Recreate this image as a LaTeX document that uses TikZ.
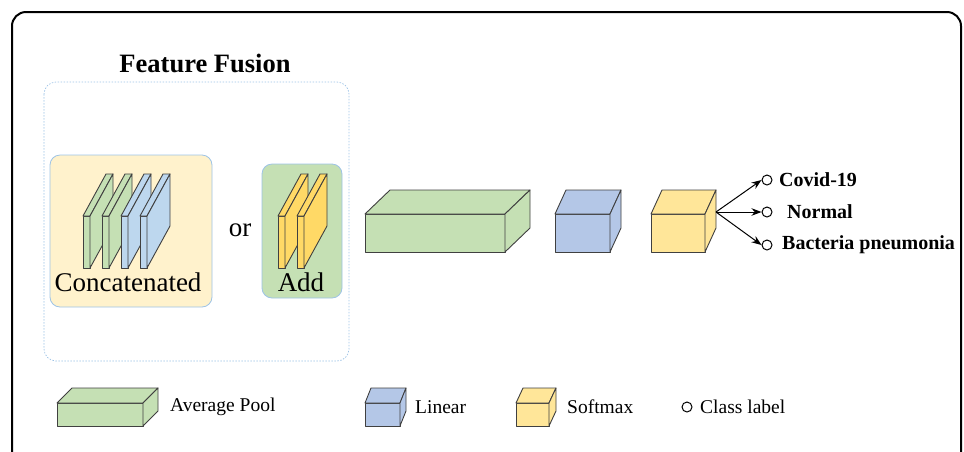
\documentclass[tikz,border=0pt]{standalone}
\usepackage{fontspec}
\setmainfont{Liberation Serif}
\newfontfamily\tnr{Liberation Serif}
\definecolor{pgreen}{HTML}{C5E0B4}
\definecolor{pblue}{HTML}{B4C7E7}
\definecolor{pyellow}{HTML}{FFE699}
\definecolor{pyellowd}{HTML}{FFD966}
\definecolor{sblue}{HTML}{BDD7EE}
\definecolor{cream}{HTML}{FFF2CC}
\definecolor{bordblue}{HTML}{9DC3E6}
\definecolor{edge}{HTML}{404040}
\newcommand\mycuboid[7]{%
  \filldraw[cubeline, fill=#7] (#1,#2) rectangle ++(#3,#4);
  \filldraw[cubeline, fill=#7] (#1,#2) -- ++(#5,-#6) -- ++(#3,0) -- ++(-#5,#6) -- cycle;
  \filldraw[cubeline, fill=#7] (#1+#3,#2) -- ++(#5,-#6) -- ++(0,#4) -- ++(-#5,#6) -- cycle;
}
\newcommand\myslab[2]{%
  \mycuboid{#1}{216}{7}{52}{23}{42}{#2}
}
\tikzset{
  cubeline/.style={draw=edge, line width=0.9pt, line join=round},
  classdot/.style={circle, draw=black, line width=1pt, minimum size=10pt, inner sep=0pt},
  lbl/.style={font=\tnr\fontsize{20}{22}\selectfont\bfseries, anchor=west, inner sep=0pt},
  leg/.style={font=\tnr\fontsize{19.5}{22}\selectfont, anchor=west, inner sep=0pt},
  big/.style={font=\tnr\fontsize{27}{29}\selectfont, inner sep=0pt},
  fusebox/.style={rounded corners=10pt, draw=bordblue, line width=0.8pt},
  arr/.style={-{Stealth[length=10pt,width=7.5pt]}, line width=1pt}
}
\usetikzlibrary{arrows.meta}
\begin{document}
\begin{tikzpicture}[x=1pt,y=-1pt]
\useasboundingbox (0,0) rectangle (964,451);
% outer frame
\draw[line width=2pt, rounded corners=14pt] (12,12) rectangle (961,470);
% title
\node[font=\tnr\fontsize{26.5}{28}\selectfont\bfseries, inner sep=0pt] (title) at (205,63) {Feature Fusion};
% dotted fusion area
\draw[draw=bordblue, dash pattern=on 1.5pt off 1.5pt, line width=0.7pt, rounded corners=12pt] (44,82) rectangle (349,361);
% concatenated box
\filldraw[fusebox, fill=cream] (50,155) rectangle (212,307);
\myslab{83}{pgreen}
\myslab{102}{pgreen}
\myslab{121}{sblue}
\myslab{140}{sblue}
\node[big] (concat) at (128,282) {Concatenated};
% or
\node[big] (or) at (240,230) {or};
% add box
\filldraw[fusebox, fill=pgreen] (262,164) rectangle (342,298);
\myslab{278}{pyellowd}
\myslab{297}{pyellowd}
\node[big] (add) at (301,282) {Add};
% main blocks
\mycuboid{365}{214}{140}{38}{25}{24}{pgreen}
\mycuboid{555}{214}{55}{38}{11}{24}{pblue}
\mycuboid{651}{214}{54}{38}{11}{24}{pyellow}
\coordinate (src) at (716,212);
% class outputs
\node[classdot] (c1) at (767,180) {};
\node[classdot] (c2) at (767,212) {};
\node[classdot] (c3) at (767,245) {};
\draw[arr] (src) -- (c1.west);
\draw[arr] (src) -- (c2.west);
\draw[arr] (src) -- (c3.west);
\node[lbl] (t1) at (779,180) {Covid-19};
\node[lbl] (t2) at (787,212) {Normal};
\node[lbl] (t3) at (782,245) {Bacteria pneumonia};
% legend
\mycuboid{57}{403}{86}{23}{15}{15}{pgreen}
\node[leg] (l1) at (170,407) {Average Pool};
\mycuboid{365}{403}{35}{23}{6}{15}{pblue}
\node[leg] (l2) at (415,407) {Linear};
\mycuboid{516}{403}{33}{23}{7}{15}{pyellow}
\node[leg] (l3) at (567,407) {Softmax};
\node[classdot] (ld) at (687,407) {};
\node[leg] (l4) at (700,407) {Class label};
\end{tikzpicture}
\end{document}
